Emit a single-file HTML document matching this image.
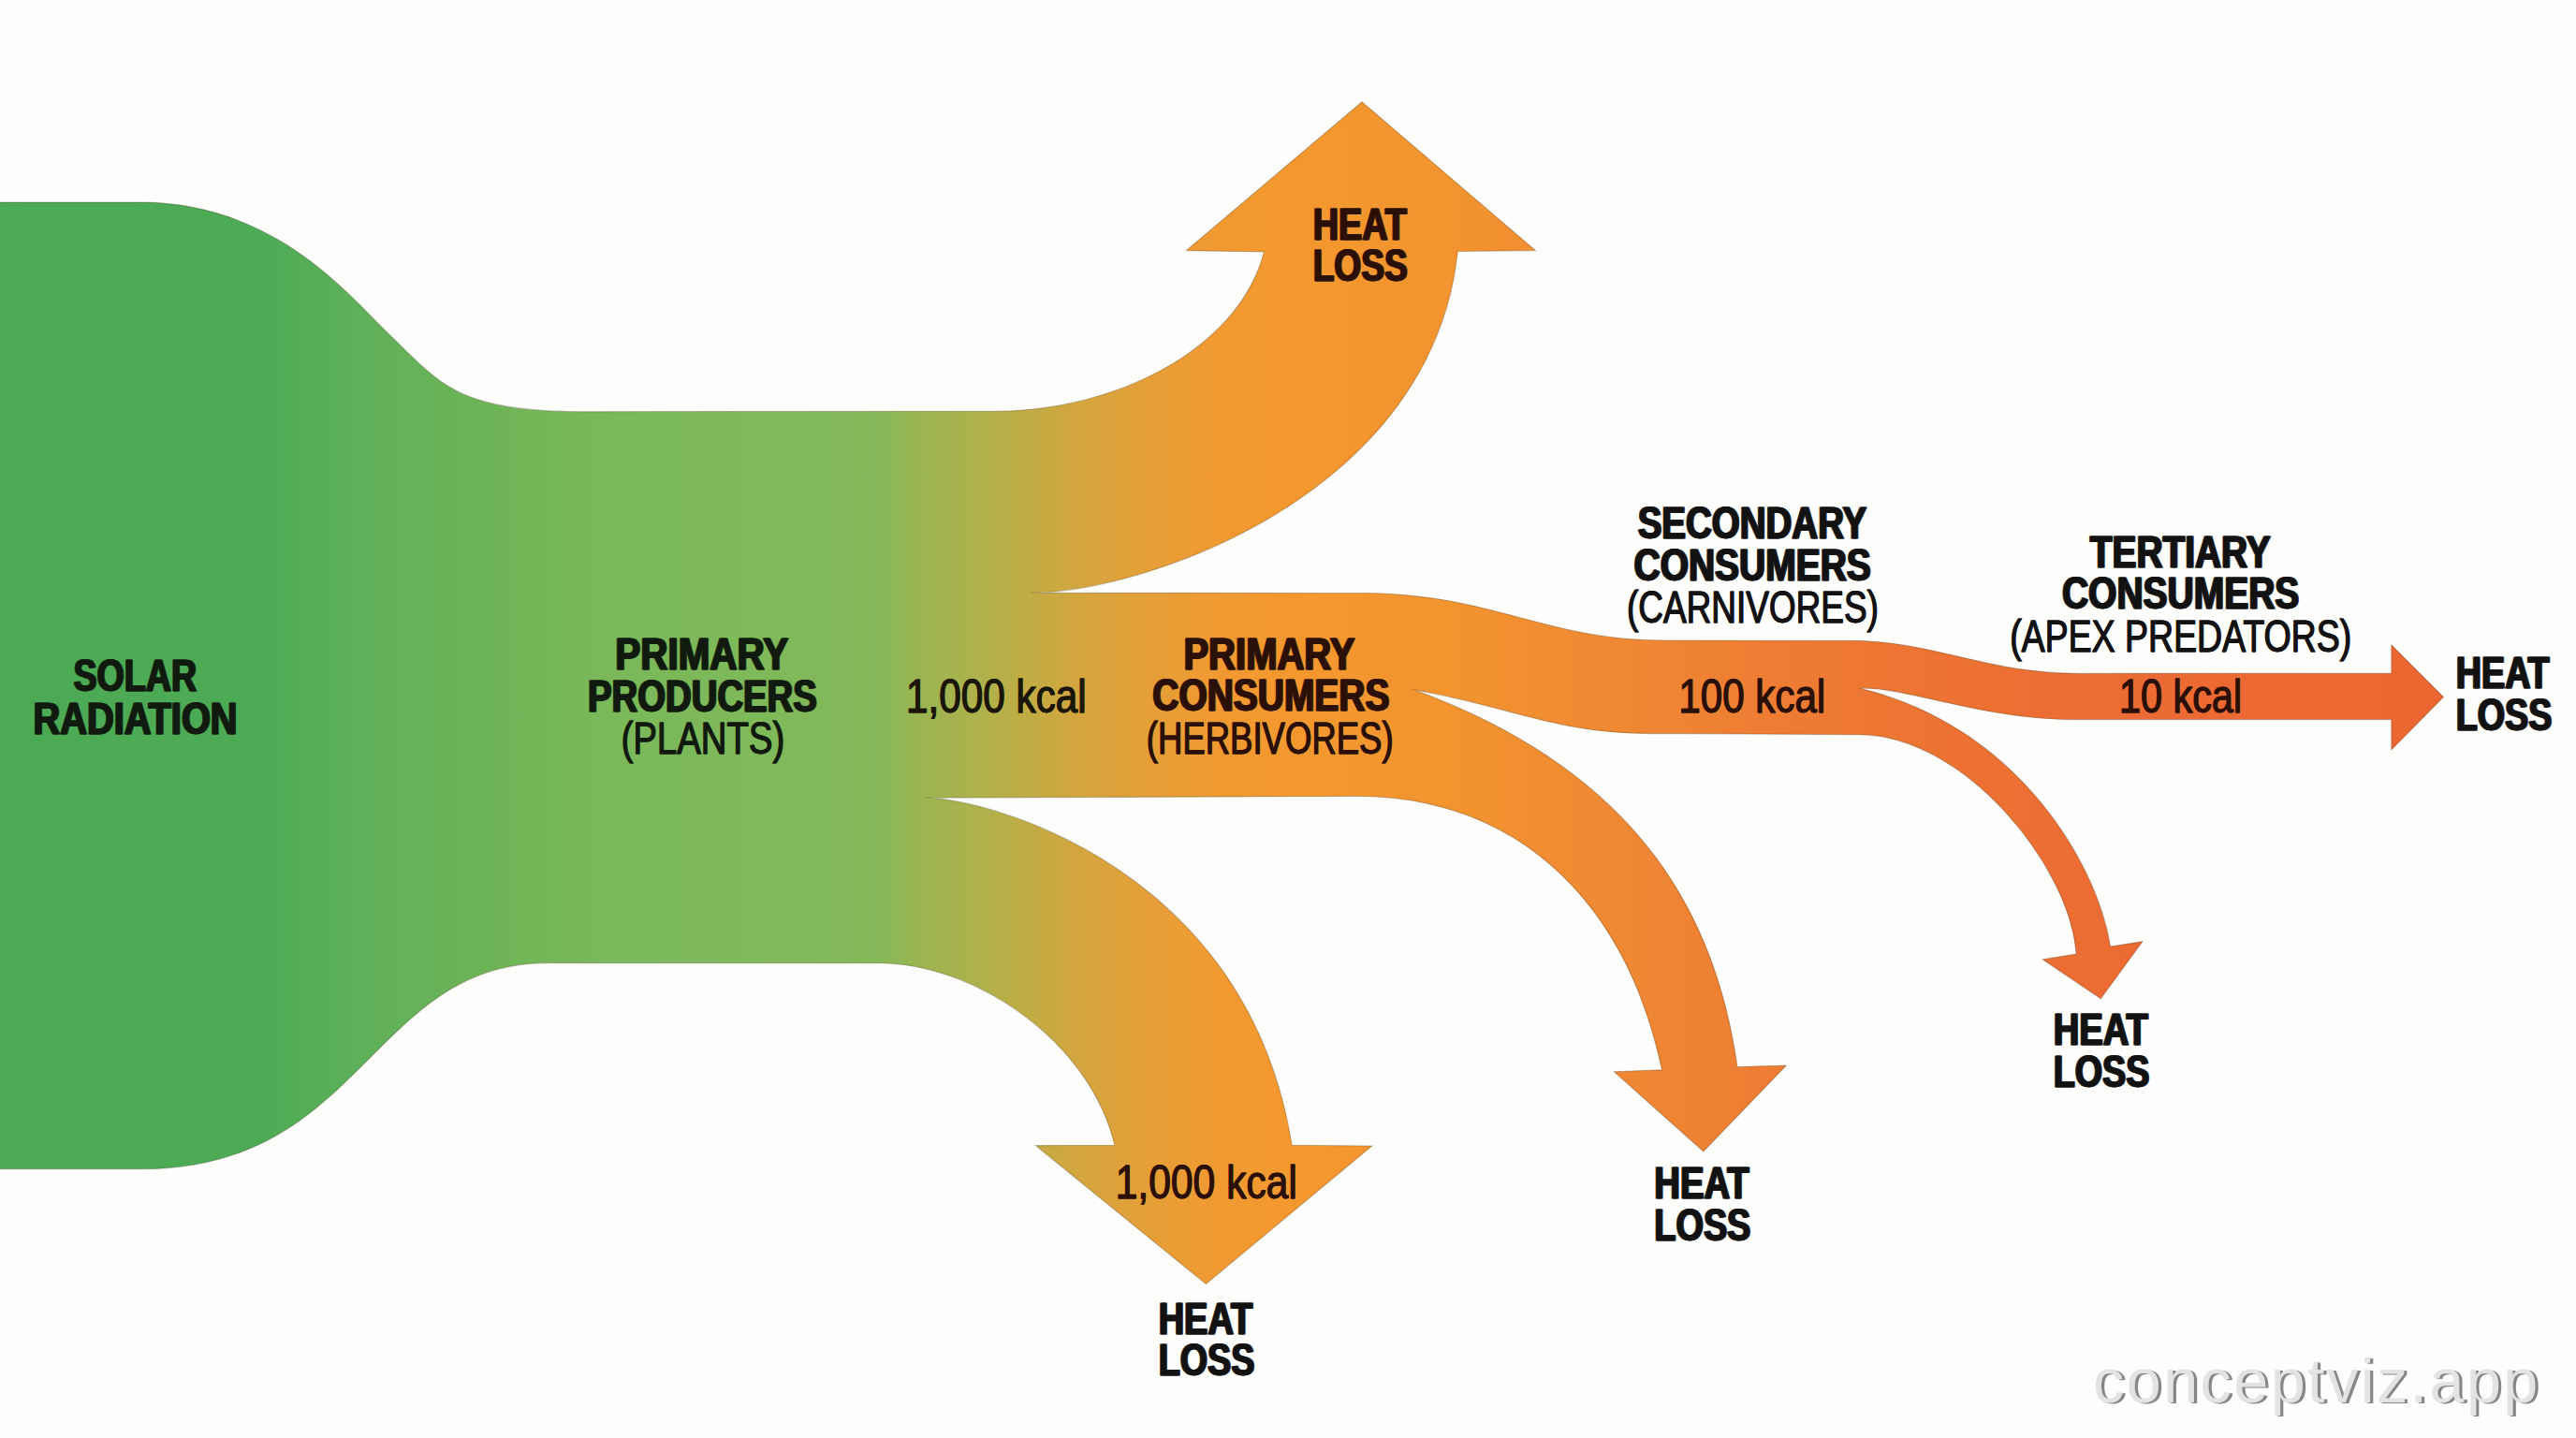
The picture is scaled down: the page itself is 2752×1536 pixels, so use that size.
<!DOCTYPE html>
<html><head><meta charset="utf-8"><title>Energy flow</title>
<style>
html,body{margin:0;padding:0;background:#fdfdfc;}
svg{display:block;}
text{font-family:"Liberation Sans",sans-serif;}
</style></head>
<body>
<svg width="2752" height="1536" viewBox="0 0 2752 1536">
<defs><linearGradient id="g" gradientUnits="userSpaceOnUse" x1="0" y1="0" x2="2752" y2="0">
<stop offset="0.0000" stop-color="#4caa55"/>
<stop offset="0.1017" stop-color="#4dab55"/>
<stop offset="0.1399" stop-color="#5fb05a"/>
<stop offset="0.1860" stop-color="#6cb456"/>
<stop offset="0.2326" stop-color="#7ab85a"/>
<stop offset="0.2907" stop-color="#7eb95a"/>
<stop offset="0.3398" stop-color="#84b85a"/>
<stop offset="0.3543" stop-color="#98b553"/>
<stop offset="0.3779" stop-color="#adb24c"/>
<stop offset="0.3979" stop-color="#c0ac44"/>
<stop offset="0.4197" stop-color="#d4a53e"/>
<stop offset="0.4440" stop-color="#e49f38"/>
<stop offset="0.4688" stop-color="#f09a32"/>
<stop offset="0.5022" stop-color="#f4982e"/>
<stop offset="0.5632" stop-color="#f3942f"/>
<stop offset="0.6177" stop-color="#f08a33"/>
<stop offset="0.6904" stop-color="#ee7c33"/>
<stop offset="0.7631" stop-color="#ed7133"/>
<stop offset="0.8358" stop-color="#ec6a33"/>
<stop offset="1.0000" stop-color="#ec6431"/>
</linearGradient></defs>
<rect width="2752" height="1536" fill="#fdfdfc"/>
<path d="M-5,216.1 L100,216.1 L150.3,216.1 C295.2,216.1 374.7,318 416.1,357.4 C469.4,408.3 487.1,439.7 620.3,439.7 L1000,439.2 L1065.1,439.2 C1185,439.2 1322,377.1 1350.5,269 L1267.3,267.6 L1455,108.8 L1640.5,267.6 L1557.5,268.5 L1557.3,268.5 C1530.2,529.4 1221.1,633.2 1101,633.2 L1420,633.5 L1453.8,633.5 C1593,633.5 1651,684 1776.7,684 L1960,684.3 L1974.4,684.3 C2067.3,684.3 2118.9,719.4 2222.1,719.4 L2554.8,719.2 L2554.8,688.8 L2610.5,744.5 L2554.8,800.9 L2554.8,768.6 L2240,768.6 L2213.3,768.6 C2121.3,768.6 2034,733.3 1988,735.4 L1988,735.4 C2155.4,776.2 2241,922.9 2254.7,1011 L2289,1005.7 L2244.3,1066.8 L2182.1,1024.7 L2218,1019 L2218,1019 C2212.8,928.1 2099.9,784.8 1985.3,784.8 L1800,783.6 L1765,783.6 C1663.4,783.6 1620.2,756.6 1511.5,736.9 L1511.5,736.9 C1737.3,820.6 1830.8,961.6 1856.1,1139.5 L1908.4,1138 L1819.8,1230 L1724.3,1144.8 L1774,1142.8 L1775.5,1143 C1734.6,951.8 1611.6,850.5 1450,850.5 L988.5,852.2 L990,852.3 C1049.1,852.3 1332.2,922.5 1380.3,1223.3 L1465.8,1224 L1288.4,1371.6 L1106.3,1223.6 L1190.5,1223.3 L1190.8,1223 C1164.9,1113.8 1043.4,1028.7 938.1,1028.7 L640,1028.8 L585.1,1028.6 C396.9,1028.6 388.6,1248.8 151.5,1248.8 L-5,1248.8 Z" fill="url(#g)" stroke="#3a2a10" stroke-opacity="0.28" stroke-width="1.1" stroke-linejoin="miter" stroke-miterlimit="20"/>
<text x="77.7" y="738.2" font-size="48.26" font-weight="bold" textLength="131.6" lengthAdjust="spacingAndGlyphs" fill="#111a0e" stroke="#111a0e" stroke-width="0.8">SOLAR</text><text x="79.2" y="738.2" font-size="48.26" font-weight="bold" textLength="131.6" lengthAdjust="spacingAndGlyphs" fill="#111a0e" stroke="#111a0e" stroke-width="0.8">SOLAR</text>
<text x="34.8" y="783.5" font-size="48.26" font-weight="bold" textLength="218.0" lengthAdjust="spacingAndGlyphs" fill="#111a0e" stroke="#111a0e" stroke-width="0.8">RADIATION</text><text x="36.3" y="783.5" font-size="48.26" font-weight="bold" textLength="218.0" lengthAdjust="spacingAndGlyphs" fill="#111a0e" stroke="#111a0e" stroke-width="0.8">RADIATION</text>
<text x="656.5" y="714.6" font-size="48.26" font-weight="bold" textLength="184.9" lengthAdjust="spacingAndGlyphs" fill="#111a0e" stroke="#111a0e" stroke-width="0.8">PRIMARY</text><text x="658.0" y="714.6" font-size="48.26" font-weight="bold" textLength="184.9" lengthAdjust="spacingAndGlyphs" fill="#111a0e" stroke="#111a0e" stroke-width="0.8">PRIMARY</text>
<text x="627.3" y="759.5" font-size="48.26" font-weight="bold" textLength="244.8" lengthAdjust="spacingAndGlyphs" fill="#111a0e" stroke="#111a0e" stroke-width="0.8">PRODUCERS</text><text x="628.8" y="759.5" font-size="48.26" font-weight="bold" textLength="244.8" lengthAdjust="spacingAndGlyphs" fill="#111a0e" stroke="#111a0e" stroke-width="0.8">PRODUCERS</text>
<text x="663.4" y="804.8" font-size="48.55" font-weight="normal" textLength="174.6" lengthAdjust="spacingAndGlyphs" fill="#111a0e" stroke="#111a0e" stroke-width="0.8">(PLANTS)</text><text x="663.8" y="804.8" font-size="48.55" font-weight="normal" textLength="174.6" lengthAdjust="spacingAndGlyphs" fill="#111a0e" stroke="#111a0e" stroke-width="0.8">(PLANTS)</text>
<text x="967.8" y="760.5" font-size="49.71" font-weight="normal" textLength="192.6" lengthAdjust="spacingAndGlyphs" fill="#1a1608" stroke="#1a1608" stroke-width="0.8">1,000 kcal</text><text x="968.2" y="760.5" font-size="49.71" font-weight="normal" textLength="192.6" lengthAdjust="spacingAndGlyphs" fill="#1a1608" stroke="#1a1608" stroke-width="0.8">1,000 kcal</text>
<text x="1263.7" y="714.6" font-size="48.26" font-weight="bold" textLength="183.0" lengthAdjust="spacingAndGlyphs" fill="#2a1006" stroke="#2a1006" stroke-width="0.8">PRIMARY</text><text x="1265.2" y="714.6" font-size="48.26" font-weight="bold" textLength="183.0" lengthAdjust="spacingAndGlyphs" fill="#2a1006" stroke="#2a1006" stroke-width="0.8">PRIMARY</text>
<text x="1230.6" y="759.4" font-size="48.26" font-weight="bold" textLength="253.0" lengthAdjust="spacingAndGlyphs" fill="#2a1006" stroke="#2a1006" stroke-width="0.8">CONSUMERS</text><text x="1232.1" y="759.4" font-size="48.26" font-weight="bold" textLength="253.0" lengthAdjust="spacingAndGlyphs" fill="#2a1006" stroke="#2a1006" stroke-width="0.8">CONSUMERS</text>
<text x="1224.6" y="804.7" font-size="48.55" font-weight="normal" textLength="263.8" lengthAdjust="spacingAndGlyphs" fill="#2a1006" stroke="#2a1006" stroke-width="0.8">(HERBIVORES)</text><text x="1225.0" y="804.7" font-size="48.55" font-weight="normal" textLength="263.8" lengthAdjust="spacingAndGlyphs" fill="#2a1006" stroke="#2a1006" stroke-width="0.8">(HERBIVORES)</text>
<text x="1748.9" y="574.8" font-size="48.26" font-weight="bold" textLength="244.6" lengthAdjust="spacingAndGlyphs" fill="#121212" stroke="#121212" stroke-width="0.8">SECONDARY</text><text x="1750.4" y="574.8" font-size="48.26" font-weight="bold" textLength="244.6" lengthAdjust="spacingAndGlyphs" fill="#121212" stroke="#121212" stroke-width="0.8">SECONDARY</text>
<text x="1744.8" y="619.5" font-size="48.26" font-weight="bold" textLength="253.2" lengthAdjust="spacingAndGlyphs" fill="#121212" stroke="#121212" stroke-width="0.8">CONSUMERS</text><text x="1746.3" y="619.5" font-size="48.26" font-weight="bold" textLength="253.2" lengthAdjust="spacingAndGlyphs" fill="#121212" stroke="#121212" stroke-width="0.8">CONSUMERS</text>
<text x="1737.8" y="665.2" font-size="48.55" font-weight="normal" textLength="268.9" lengthAdjust="spacingAndGlyphs" fill="#121212" stroke="#121212" stroke-width="0.8">(CARNIVORES)</text><text x="1738.2" y="665.2" font-size="48.55" font-weight="normal" textLength="268.9" lengthAdjust="spacingAndGlyphs" fill="#121212" stroke="#121212" stroke-width="0.8">(CARNIVORES)</text>
<text x="1793.2" y="760.5" font-size="49.71" font-weight="normal" textLength="156.8" lengthAdjust="spacingAndGlyphs" fill="#2a1006" stroke="#2a1006" stroke-width="0.8">100 kcal</text><text x="1793.6" y="760.5" font-size="49.71" font-weight="normal" textLength="156.8" lengthAdjust="spacingAndGlyphs" fill="#2a1006" stroke="#2a1006" stroke-width="0.8">100 kcal</text>
<text x="2232.0" y="605.7" font-size="48.26" font-weight="bold" textLength="192.8" lengthAdjust="spacingAndGlyphs" fill="#121212" stroke="#121212" stroke-width="0.8">TERTIARY</text><text x="2233.5" y="605.7" font-size="48.26" font-weight="bold" textLength="192.8" lengthAdjust="spacingAndGlyphs" fill="#121212" stroke="#121212" stroke-width="0.8">TERTIARY</text>
<text x="2202.2" y="650.1" font-size="48.26" font-weight="bold" textLength="253.4" lengthAdjust="spacingAndGlyphs" fill="#121212" stroke="#121212" stroke-width="0.8">CONSUMERS</text><text x="2203.7" y="650.1" font-size="48.26" font-weight="bold" textLength="253.4" lengthAdjust="spacingAndGlyphs" fill="#121212" stroke="#121212" stroke-width="0.8">CONSUMERS</text>
<text x="2147.0" y="695.7" font-size="48.55" font-weight="normal" textLength="365.0" lengthAdjust="spacingAndGlyphs" fill="#121212" stroke="#121212" stroke-width="0.8">(APEX PREDATORS)</text><text x="2147.4" y="695.7" font-size="48.55" font-weight="normal" textLength="365.0" lengthAdjust="spacingAndGlyphs" fill="#121212" stroke="#121212" stroke-width="0.8">(APEX PREDATORS)</text>
<text x="2263.8" y="761.1" font-size="49.71" font-weight="normal" textLength="131.1" lengthAdjust="spacingAndGlyphs" fill="#2a1006" stroke="#2a1006" stroke-width="0.8">10 kcal</text><text x="2264.2" y="761.1" font-size="49.71" font-weight="normal" textLength="131.1" lengthAdjust="spacingAndGlyphs" fill="#2a1006" stroke="#2a1006" stroke-width="0.8">10 kcal</text>
<text x="2623.1" y="735.4" font-size="48.26" font-weight="bold" textLength="99.8" lengthAdjust="spacingAndGlyphs" fill="#121212" stroke="#121212" stroke-width="0.8">HEAT</text><text x="2624.6" y="735.4" font-size="48.26" font-weight="bold" textLength="99.8" lengthAdjust="spacingAndGlyphs" fill="#121212" stroke="#121212" stroke-width="0.8">HEAT</text>
<text x="2623.1" y="780.3" font-size="48.26" font-weight="bold" textLength="102.5" lengthAdjust="spacingAndGlyphs" fill="#121212" stroke="#121212" stroke-width="0.8">LOSS</text><text x="2624.6" y="780.3" font-size="48.26" font-weight="bold" textLength="102.5" lengthAdjust="spacingAndGlyphs" fill="#121212" stroke="#121212" stroke-width="0.8">LOSS</text>
<text x="1401.9" y="255.8" font-size="48.26" font-weight="bold" textLength="100.1" lengthAdjust="spacingAndGlyphs" fill="#2a1006" stroke="#2a1006" stroke-width="0.8">HEAT</text><text x="1403.4" y="255.8" font-size="48.26" font-weight="bold" textLength="100.1" lengthAdjust="spacingAndGlyphs" fill="#2a1006" stroke="#2a1006" stroke-width="0.8">HEAT</text>
<text x="1401.9" y="300.2" font-size="48.26" font-weight="bold" textLength="101.1" lengthAdjust="spacingAndGlyphs" fill="#2a1006" stroke="#2a1006" stroke-width="0.8">LOSS</text><text x="1403.4" y="300.2" font-size="48.26" font-weight="bold" textLength="101.1" lengthAdjust="spacingAndGlyphs" fill="#2a1006" stroke="#2a1006" stroke-width="0.8">LOSS</text>
<text x="1236.9" y="1424.6" font-size="48.26" font-weight="bold" textLength="100.6" lengthAdjust="spacingAndGlyphs" fill="#121212" stroke="#121212" stroke-width="0.8">HEAT</text><text x="1238.4" y="1424.6" font-size="48.26" font-weight="bold" textLength="100.6" lengthAdjust="spacingAndGlyphs" fill="#121212" stroke="#121212" stroke-width="0.8">HEAT</text>
<text x="1236.9" y="1468.8" font-size="48.26" font-weight="bold" textLength="102.7" lengthAdjust="spacingAndGlyphs" fill="#121212" stroke="#121212" stroke-width="0.8">LOSS</text><text x="1238.4" y="1468.8" font-size="48.26" font-weight="bold" textLength="102.7" lengthAdjust="spacingAndGlyphs" fill="#121212" stroke="#121212" stroke-width="0.8">LOSS</text>
<text x="1191.5" y="1279.5" font-size="49.71" font-weight="normal" textLength="194.1" lengthAdjust="spacingAndGlyphs" fill="#2a1006" stroke="#2a1006" stroke-width="0.8">1,000 kcal</text><text x="1191.9" y="1279.5" font-size="49.71" font-weight="normal" textLength="194.1" lengthAdjust="spacingAndGlyphs" fill="#2a1006" stroke="#2a1006" stroke-width="0.8">1,000 kcal</text>
<text x="1766.6" y="1280.3" font-size="48.26" font-weight="bold" textLength="101.4" lengthAdjust="spacingAndGlyphs" fill="#121212" stroke="#121212" stroke-width="0.8">HEAT</text><text x="1768.1" y="1280.3" font-size="48.26" font-weight="bold" textLength="101.4" lengthAdjust="spacingAndGlyphs" fill="#121212" stroke="#121212" stroke-width="0.8">HEAT</text>
<text x="1766.6" y="1325.1" font-size="48.26" font-weight="bold" textLength="103.0" lengthAdjust="spacingAndGlyphs" fill="#121212" stroke="#121212" stroke-width="0.8">LOSS</text><text x="1768.1" y="1325.1" font-size="48.26" font-weight="bold" textLength="103.0" lengthAdjust="spacingAndGlyphs" fill="#121212" stroke="#121212" stroke-width="0.8">LOSS</text>
<text x="2192.9" y="1115.9" font-size="48.26" font-weight="bold" textLength="101.2" lengthAdjust="spacingAndGlyphs" fill="#121212" stroke="#121212" stroke-width="0.8">HEAT</text><text x="2194.4" y="1115.9" font-size="48.26" font-weight="bold" textLength="101.2" lengthAdjust="spacingAndGlyphs" fill="#121212" stroke="#121212" stroke-width="0.8">HEAT</text>
<text x="2192.9" y="1161.1" font-size="48.26" font-weight="bold" textLength="102.7" lengthAdjust="spacingAndGlyphs" fill="#121212" stroke="#121212" stroke-width="0.8">LOSS</text><text x="2194.4" y="1161.1" font-size="48.26" font-weight="bold" textLength="102.7" lengthAdjust="spacingAndGlyphs" fill="#121212" stroke="#121212" stroke-width="0.8">LOSS</text>
<text x="2239.3" y="1499.2" font-size="66.50" letter-spacing="2.43" fill="#878787">conceptviz.app</text>
<text x="2236.1" y="1498.3" font-size="66.50" letter-spacing="2.43" fill="#e3e3e3">conceptviz.app</text>
</svg>
</body></html>
